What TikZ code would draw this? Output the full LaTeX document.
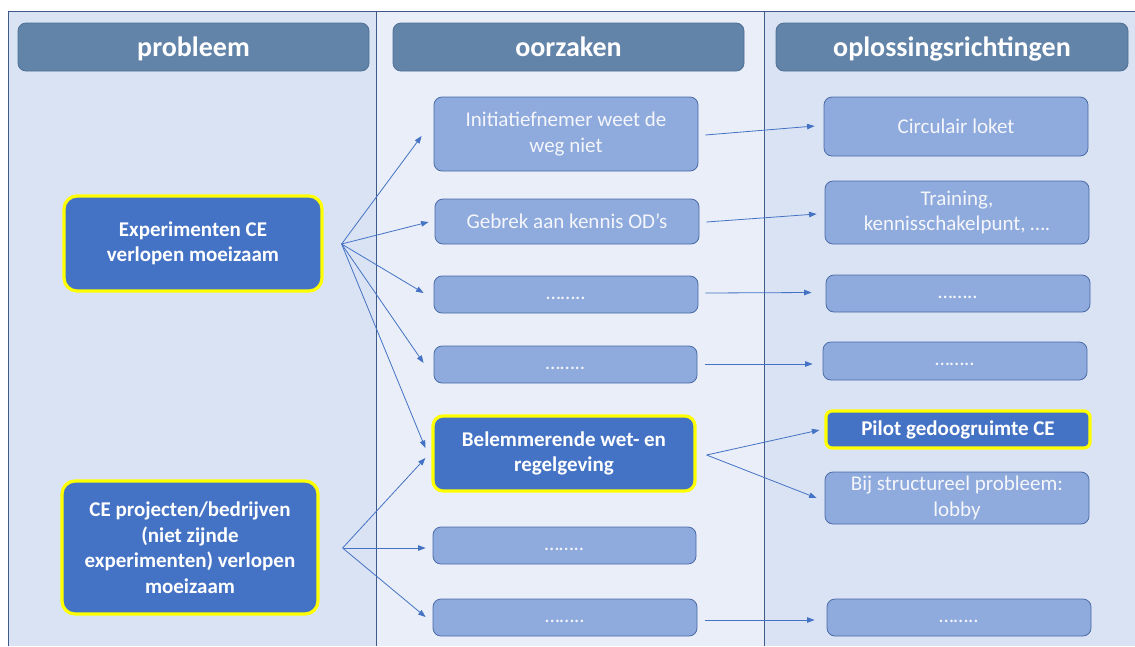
\documentclass[tikz,border=0pt]{standalone}
\usepackage{fontspec}
\setmainfont{Carlito}
\usetikzlibrary{arrows.meta,calc}
\definecolor{bgA}{HTML}{DAE3F3}
\definecolor{bgB}{HTML}{E9EEF8}
\definecolor{framec}{HTML}{3D5A8A}
\definecolor{headf}{HTML}{6384A9}
\definecolor{headd}{HTML}{4F6F95}
\definecolor{lightf}{HTML}{8FAADC}
\definecolor{lightd}{HTML}{4A6BA8}
\definecolor{darkf}{HTML}{4472C4}
\definecolor{yel}{HTML}{FFFF00}
\definecolor{arrc}{HTML}{4472C4}
\definecolor{ltext}{HTML}{F4F6FB}
\tikzset{
  hdr/.style={draw=headd, line width=0.8pt, fill=headf, rounded corners=8pt, text=white,
    font=\fontsize{28}{32}\selectfont\bfseries, inner sep=0pt, text height=23pt, text depth=5pt},
  lbox/.style={draw=lightd, line width=0.8pt, fill=lightf, rounded corners=8pt, text=ltext,
    font=\fontsize{21}{25.5}\selectfont, align=center, inner sep=0pt},
  dotbox/.style={lbox, text height=9pt, text depth=0pt},
  dbox/.style={draw=yel, line width=3.2pt, fill=darkf, rounded corners=13pt, text=white,
    font=\fontsize{21}{25.5}\selectfont\bfseries, align=center, inner sep=0pt},
  pbox/.style={draw=yel, line width=3.2pt, fill=darkf, rounded corners=6pt, text=white,
    font=\fontsize{21}{25.5}\selectfont\bfseries, align=center, inner sep=0pt},
  arr/.style={draw=arrc, line width=0.8pt, -{Triangle[length=7.5pt,width=5.5pt]}},
  divl/.style={draw=framec, line width=1pt}
}
\begin{document}
\begin{tikzpicture}[x=1pt,y=-1pt]
\useasboundingbox (0,0) rectangle (1135,646);
\fill[white] (0,0) rectangle (1135,646);
% column backgrounds
\fill[bgA] (8,11) rectangle (376,646);
\fill[bgB] (376,11) rectangle (764,646);
\fill[bgA] (764,11) rectangle (1135,646);
\draw[divl] (8,646) -- (8,11) -- (1135,11);
\draw[divl] (376,11) -- (376,646);
\draw[divl] (764,11) -- (764,646);
% headers
\node[hdr, minimum width=351pt, minimum height=48pt] (h1) at (193.5,47) {probleem};
\node[hdr, minimum width=351pt, minimum height=48pt] (h2) at (568.5,47) {oorzaken};
\node[hdr, minimum width=352pt, minimum height=48pt] (h3) at (952,47) {oplossingsrichtingen};
% left column
\node[dbox, minimum width=258pt, minimum height=95pt] (exp) at (193,243.5) {Experimenten CE\\verlopen moeizaam};
\node[dbox, minimum width=256pt, minimum height=133pt] (cep) at (190,547.5) {CE projecten/bedrijven\\(niet zijnde\\experimenten) verlopen\\moeizaam};
% middle column
\node[lbox, minimum width=264pt, minimum height=74pt] (init) at (566,134) {Initiatiefnemer weet de\\weg niet};
\node[lbox, minimum width=264pt, minimum height=45pt] (gebrek) at (567,221.5) {Gebrek aan kennis OD’s};
\node[dotbox, minimum width=264pt, minimum height=37pt] (d1) at (566,294.5) {……..};
\node[dotbox, minimum width=263pt, minimum height=37pt] (d2) at (565.5,364.5) {……..};
\node[dbox, rounded corners=10pt, minimum width=262pt, minimum height=75pt] (belem) at (564,453.5) {Belemmerende wet- en\\regelgeving};
\node[dotbox, minimum width=263pt, minimum height=37pt] (d3) at (564.5,545.5) {……..};
\node[dotbox, minimum width=264pt, minimum height=37pt] (d4) at (565,617.5) {……..};
% right column
\node[lbox, minimum width=264pt, minimum height=59pt] (circ) at (956,126.5) {Circulair loket};
\node[lbox, minimum width=264pt, minimum height=63pt] (train) at (957,212.5) {Training,\\kennisschakelpunt, ….};
\node[dotbox, minimum width=264pt, minimum height=37pt] (r1) at (958,293.5) {……..};
\node[dotbox, minimum width=264pt, minimum height=38pt] (r2) at (955,361) {……..};
\node[pbox, minimum width=264pt, minimum height=37pt] (pilot) at (958,429.5) {Pilot gedoogruimte CE};
\node[lbox, minimum width=264pt, minimum height=52pt] (bij) at (957,498) {Bij structureel probleem:\\lobby};
\node[dotbox, minimum width=264pt, minimum height=37pt] (r4) at (959,617.5) {……..};
% arrow sources
\coordinate (s1) at ($(exp.east)+(18,0.5)$);
\coordinate (s2) at ($(cep.east)+(23,0.5)$);
\draw[arr] (s1) -- ($(init.west)+(-12,2)$);
\draw[arr] (s1) -- ($(gebrek.west)+(-6,0.5)$);
\draw[arr] (s1) -- ($(d1.west)+(-10,-1.5)$);
\draw[arr] (s1) -- ($(d2.west)+(-10,-1.5)$);
\draw[arr] (s1) -- ($(belem.west)+(-6,-5.5)$);
\draw[arr] (s2) -- ($(belem.west)+(-6,4.5)$);
\draw[arr] (s2) -- ($(d3.west)+(-7,2.5)$);
\draw[arr] (s2) -- ($(d4.west)+(-7,-0.5)$);
% right arrows
\draw[arr] ($(init.east)+(7,1)$) -- ($(circ.west)+(-9,-0.5)$);
\draw[arr] ($(gebrek.east)+(7,0.5)$) -- ($(train.west)+(-8,1.5)$);
\draw[arr] ($(d1.east)+(7,-1.5)$) -- ($(r1.west)+(-14,-1)$);
\draw[arr] ($(d2.east)+(8,-0.5)$) -- ($(r2.west)+(-10,3)$);
\coordinate (s3) at ($(belem.east)+(10,1.5)$);
\draw[arr] (s3) -- ($(pilot.west)+(-5,0.5)$);
\draw[arr] (s3) -- ($(bij.west)+(-8,0)$);
\draw[arr] ($(d4.east)+(8,2.5)$) -- ($(r4.west)+(-12,2.5)$);
\end{tikzpicture}
\end{document}
